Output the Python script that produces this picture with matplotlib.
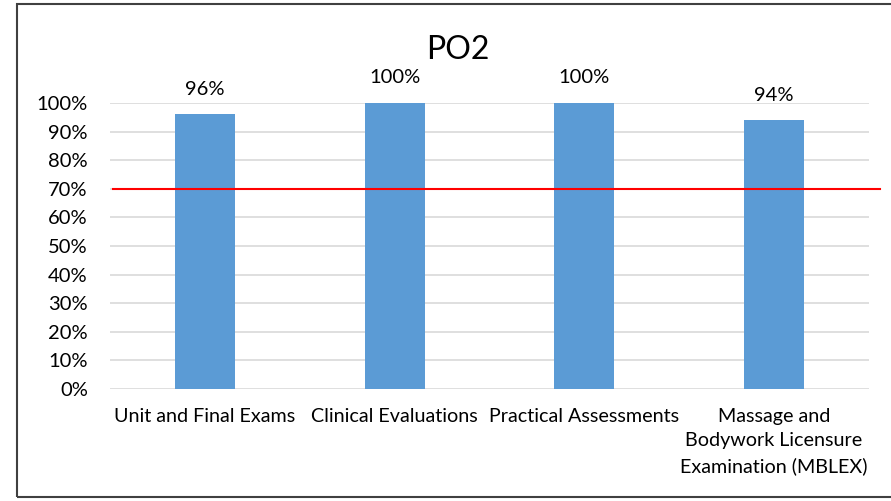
import matplotlib.pyplot as plt
from matplotlib.patches import Rectangle

# data
categories = ["Unit and Final Exams", "Clinical Evaluations", "Practical Assessments",
              "Massage and\nBodywork Licensure\nExamination (MBLEX)"]
values = [0.96, 1.00, 1.00, 0.94]
bar_labels = ["96%", "100%", "100%", "94%"]
target = 0.70
yticks = [i / 10 for i in range(11)]
ytick_labels = [f"{i * 10}%" for i in range(11)]

plt.rcParams['font.family'] = ['Lato', 'DejaVu Sans']

fig = plt.figure(figsize=(8.91, 5.01), dpi=100)
ax = fig.add_axes([0.1235, 0.2236, 0.8518, 0.5709])

x = range(len(categories))
ax.bar(x, values, width=0.316, color='#5B9BD5', zorder=3)

for xi, v, lab in zip(x, values, bar_labels):
    ax.annotate(lab, (xi, v), xytext=(0, 18), textcoords='offset points',
                ha='center', va='center', fontsize=14.5)

# target line, runs a bit past the plot area on the right
ax.axhline(target, xmin=0.004, xmax=1.0145, color='red', lw=1.5, clip_on=False, zorder=4)

ax.set_xlim(-0.5, len(categories) - 0.5)
ax.set_ylim(0, 1)
ax.set_yticks(yticks)
ax.set_yticklabels(ytick_labels, fontsize=14.5)
ax.set_xticks(list(x))
ax.set_xticklabels(categories, fontsize=14.2, linespacing=1.55, va='top')
ax.tick_params(axis='both', length=0)
ax.tick_params(axis='y', pad=16)
ax.tick_params(axis='x', pad=13.5)
ax.grid(axis='y', color='#d9d9d9', lw=1.2, zorder=0)
ax.set_axisbelow(True)
for s in ax.spines.values():
    s.set_visible(False)

fig.text(0.514, 0.90, "PO2", ha='center', va='center', fontsize=23)

# chart border
fig.patches.append(Rectangle((0.019, 0.008), 1.0, 0.984, transform=fig.transFigure,
                             fill=False, edgecolor='#404040', lw=1.5, clip_on=False))

plt.savefig("out.png", dpi=100)
